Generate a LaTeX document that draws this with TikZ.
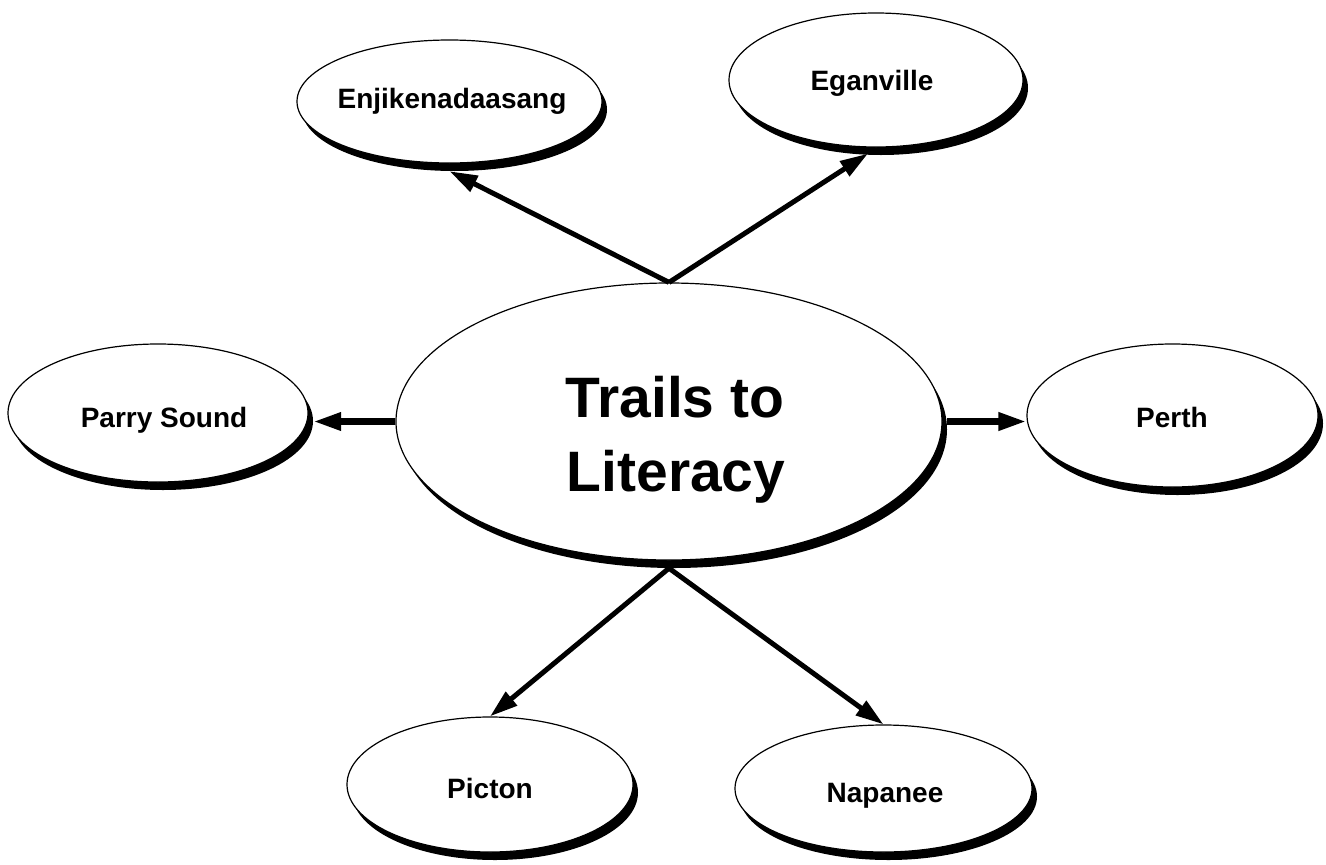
\documentclass[tikz,border=0pt]{standalone}
\usepackage{fontspec}
\setmainfont{Liberation Sans}
\usetikzlibrary{shapes.geometric,arrows.meta,calc}

% an ellipse with a black drop shadow to its lower right
\newcommand\bubblenode[5]{%
  \node[drop, minimum width=#4, minimum height=#5] (#1-s) at (#2+5,#3+8) {};
  \node[bubble, minimum width=#4, minimum height=#5] (#1) at (#2,#3) {};}

\begin{document}
\begin{tikzpicture}[x=1pt,y=-1pt,
  bubble/.style={ellipse, draw=black, line width=1.2pt, fill=white, inner sep=0pt},
  drop/.style={ellipse, fill=black, inner sep=0pt},
  townlabel/.style={anchor=base, inner sep=0pt, font=\fontsize{28}{34}\selectfont\bfseries},
  titlelabel/.style={anchor=base, inner sep=0pt, font=\fontsize{57}{74}\selectfont\bfseries},
  link/.style={line width=5pt, -{Triangle[length=28pt,width=17pt]}},
  widelink/.style={link, line width=6.5pt}]

\useasboundingbox (0,0) rectangle (1326,865);

% places
\bubblenode{centre}{669}{421.5}{546pt}{277pt}
\bubblenode{enji}{449.5}{101.5}{305pt}{123pt}
\bubblenode{egan}{876}{80}{294pt}{134pt}
\bubblenode{parry}{158}{413}{300pt}{138pt}
\bubblenode{perth}{1172.5}{415.5}{291pt}{143pt}
\bubblenode{pict}{490}{784.5}{286pt}{135pt}
\bubblenode{nap}{883.5}{788.5}{297pt}{127pt}

% labels
\node[titlelabel] (title1) at (675,417) {Trails to};
\node[titlelabel] (title2) at (676,491) {Literacy};
\node[townlabel] (enji-t)  at (452,108)  {Enjikenadaasang};
\node[townlabel] (egan-t)  at (872,90)   {Eganville};
\node[townlabel] (parry-t) at (164,427)  {Parry Sound};
\node[townlabel] (perth-t) at (1172,427) {Perth};
\node[townlabel] (pict-t)  at (490,798)  {Picton};
\node[townlabel] (nap-t)   at (885,802)  {Napanee};

% connectors
\draw[link] (centre.north) -- (enji.south |- enji-s.south);
\draw[link] (centre.north) -- ($(egan.south)+(-8,6)$);
\draw[widelink] (centre.west) -- (centre.west -| parry-s.east);
\draw[widelink] (centre-s.east |- centre.east) -- (centre.east -| perth.west);
\draw[link] (centre-s.south -| centre.south) -- (pict.north);
\draw[link] (centre-s.south -| centre.south) -- (nap.north);
\end{tikzpicture}
\end{document}
